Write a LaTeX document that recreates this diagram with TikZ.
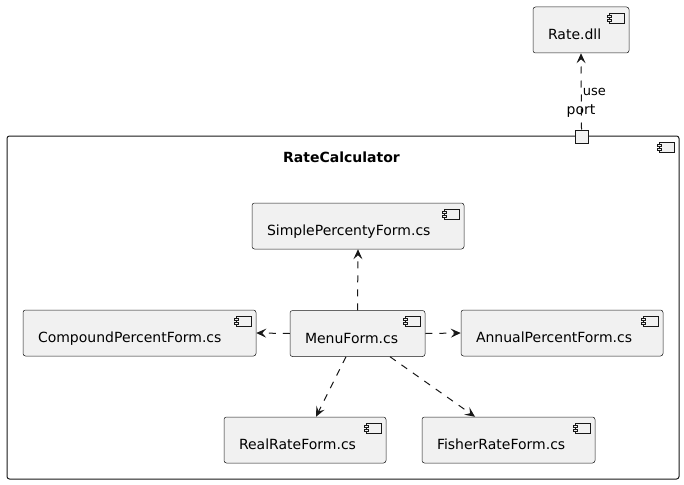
\documentclass[tikz,border=0pt]{standalone}
\usepackage{fontspec}
\setmainfont{DejaVu Sans}
\usetikzlibrary{arrows.meta,calc}
\definecolor{boxfill}{HTML}{F1F1F1}
\definecolor{boxline}{HTML}{181818}
\tikzset{
  compicon/.style={path picture={
    \draw[boxline, fill=boxfill, sharp corners, line width=0.5pt]
      ($(path picture bounding box.north east)+(-20,6)$) rectangle +(15,10);
    \draw[boxline, fill=boxfill, sharp corners, line width=0.5pt]
      ($(path picture bounding box.north east)+(-22,8)$) rectangle +(4,2);
    \draw[boxline, fill=boxfill, sharp corners, line width=0.5pt]
      ($(path picture bounding box.north east)+(-22,12)$) rectangle +(4,2);}},
  comp/.style={draw=boxline, fill=boxfill, line width=0.5pt, rounded corners=2.5pt,
    inner xsep=15pt, inner ysep=0pt, align=left, minimum height=46pt,
    text height=19pt, text depth=0pt, font=\fontsize{14}{16}\selectfont, compicon},
  frame/.style={draw=boxline, fill=white, line width=1pt, rounded corners=2.5pt,
    inner sep=0pt, compicon},
  dep/.style={draw=boxline, line width=1pt, dash pattern=on 7pt off 7pt,
    -{Stealth[length=10pt,width=9pt,inset=4pt]}},
}

\begin{document}
\begin{tikzpicture}[x=1pt,y=-1pt]

\fill[white] (0,0) rectangle (684,484);
\useasboundingbox (0,0) rectangle (684,484);

\node [comp, text width=66pt] (rate) at (581,30) {Rate.dll};
\node [frame, minimum width=672pt, minimum height=343pt] (calc) at (343,307.5) {};
\node [anchor=base, font=\bfseries\fontsize{14}{16}\selectfont] (title) at (341.5,162) {RateCalculator};
\node [draw=boxline, fill=boxfill, line width=1pt, minimum size=13pt, inner sep=0pt] (port) at (581.5,136.5) {};
\node [anchor=base, font=\fontsize{14}{16}\selectfont] (portname) at (581,114) {port};

\node [comp, text width=182pt] (simple) at (358,226) {SimplePercentyForm.cs};
\node [comp, text width=203pt] (compound) at (139.5,333) {CompoundPercentForm.cs};
\node [comp, text width=105pt] (menu) at (357.5,333.5) {MenuForm.cs};
\node [comp, text width=172pt] (annual) at (562,333) {AnnualPercentForm.cs};
\node [comp, text width=132pt] (realrate) at (305,440) {RealRateForm.cs};
\node [comp, text width=143pt] (fisher) at (508.5,440) {FisherRateForm.cs};

\draw [dep] (port.north) -- (rate.south)
  node [pos=0.45, anchor=base west, inner sep=0pt, xshift=1pt, font=\fontsize{13}{15}\selectfont] {use};
\draw [dep] (menu.north) -- (simple.south);
\draw [dep] (menu.west) -- (compound.east);
\draw [dep] (menu.east) -- (annual.west);
\draw [dep] ([xshift=-11.5pt]menu.south) -- ([xshift=11pt]realrate.north);
\draw [dep] ([xshift=32.5pt]menu.south) -- ([xshift=-33.5pt]fisher.north);
\end{tikzpicture}
\end{document}
